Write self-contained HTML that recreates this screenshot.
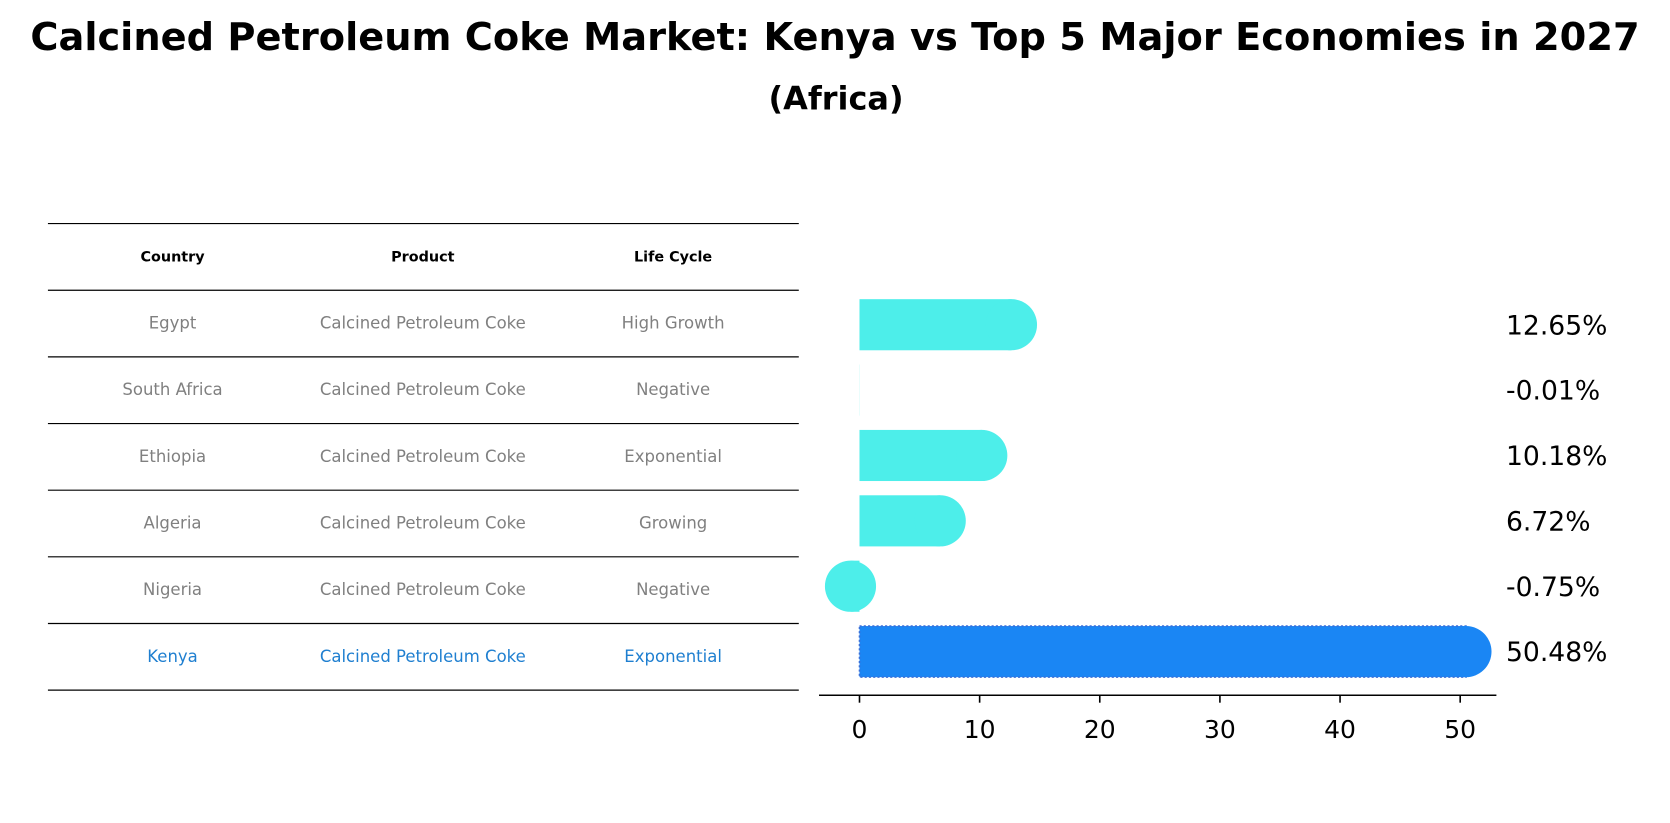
<!DOCTYPE html>
<html><head><meta charset="utf-8"><style>
body{margin:0;background:#fff;font-family:"Liberation Sans","DejaVu Sans",sans-serif}
</style></head><body>
<svg width="1670" height="823" viewBox="0 0 1568 773" preserveAspectRatio="none" xmlns="http://www.w3.org/2000/svg" font-family="DejaVu Sans, Liberation Sans, sans-serif" style="display:block">
<text x="784" y="47" text-anchor="middle" font-size="36" font-weight="bold">Calcined Petroleum Coke Market: Kenya vs Top 5 Major Economies in 2027</text>
<text x="785" y="103" text-anchor="middle" font-size="30" font-weight="bold">(Africa)</text>
<g id="table"></g>
<g id="bars"></g>
</svg>
<script>
const countries=["Egypt","South Africa","Ethiopia","Algeria","Nigeria","Kenya"];
const lifeCycle=["High Growth","Negative","Exponential","Growing","Negative","Exponential"];
const values=[12.65,-0.01,10.18,6.72,-0.75,50.48];
const valueLabels=["12.65%","-0.01%","10.18%","6.72%","-0.75%","50.48%"];
const ticks=[0,10,20,30,40,50];
const NS="http://www.w3.org/2000/svg";
function mk(t,a,p){const e=document.createElementNS(NS,t);for(const k in a)e.setAttribute(k,a[k]);p.appendChild(e);return e;}
const tbl=document.getElementById('table');
const rowY=i=>210+i*62.6;
for(let i=0;i<=7;i++){const l=mk('line',{x1:45,x2:750,y1:rowY(i),y2:rowY(i),stroke:'#000','stroke-width':1.1},tbl);

}
const cols=[162,397,632];
["Country","Product","Life Cycle"].forEach((h,j)=>{const t=mk('text',{x:cols[j],y:rowY(0)+35.5,'text-anchor':'middle','font-size':13.5,'font-weight':'bold'},tbl);t.textContent=h;

});
countries.forEach((c,i)=>{const col=c==="Kenya"?"#1f7fd0":"#808080";
[c,"Calcined Petroleum Coke",lifeCycle[i]].forEach((v,j)=>{const t=mk('text',{x:cols[j],y:rowY(i+1)+36,'text-anchor':'middle','font-size':15.5,fill:col},tbl);t.textContent=v;

});});
const g=document.getElementById('bars');
const x=v=>807+v*(1371-807)/50;
const yc=i=>305+i*61.4;
values.forEach((v,i)=>{const kenya=countries[i]==="Kenya";const fill=kenya?"#1a86f4":"#4deeea";
const x0=Math.min(x(0),x(v)),w=Math.abs(x(v)-x(0));
const r=mk('rect',{x:x0,y:yc(i)-24,width:w,height:48,fill:fill},g);
if(kenya){r.setAttribute('stroke','#3a6fd8');r.setAttribute('stroke-dasharray','2 2');r.setAttribute('stroke-width',1.5);}


if(Math.abs(v)>0.05){const c=mk('circle',{cx:x(v),cy:yc(i),r:24,fill:fill},g);

}
const t=mk('text',{x:1414,y:yc(i)+9,'font-size':25},g);t.textContent=valueLabels[i];

});
const ax=mk('line',{x1:769,x2:1405,y1:653,y2:653,stroke:'#000','stroke-width':1.5},g);


ticks.forEach(v=>{const l=mk('line',{x1:x(v),x2:x(v),y1:653,y2:660,stroke:'#000','stroke-width':1.5},g);


const t=mk('text',{x:x(v),y:693,'text-anchor':'middle','font-size':23.5},g);t.textContent=v;

});
</script>
</body></html>
